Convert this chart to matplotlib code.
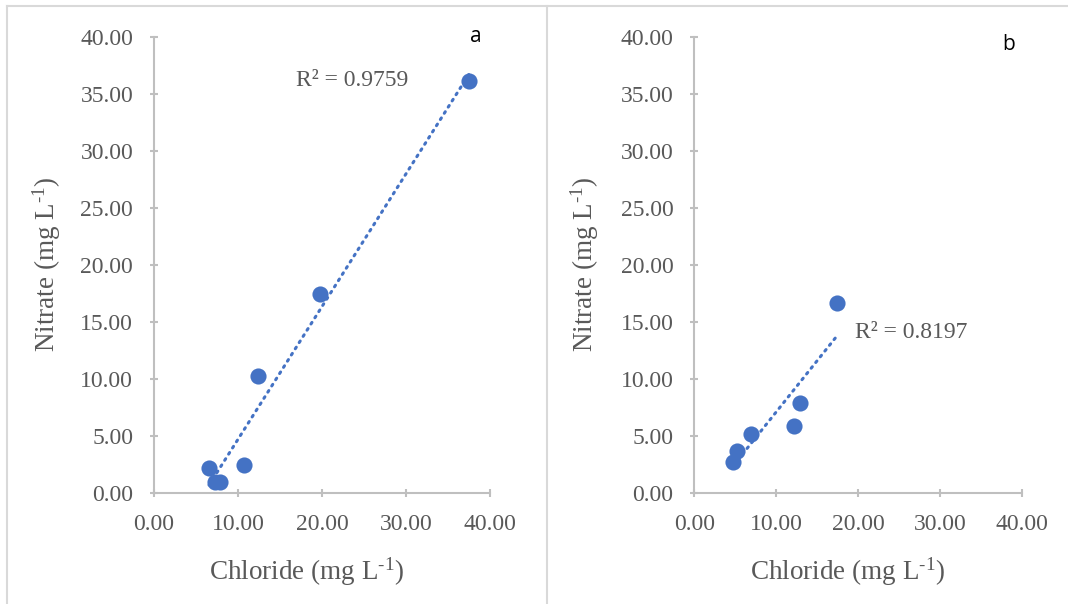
import numpy as np
import matplotlib
matplotlib.use("Agg")
import matplotlib.pyplot as plt
from matplotlib.lines import Line2D

# values
chloride_a = [6.55, 7.3, 7.9, 10.75, 12.42, 19.8, 37.5]
nitrate_a = [2.15, 0.98, 0.96, 2.43, 10.24, 17.45, 36.1]
r2_a = "R² = 0.9759"

chloride_b = [4.76, 5.17, 6.9, 12.2, 12.9, 17.37]
nitrate_b = [2.72, 3.68, 5.15, 5.88, 7.9, 16.6]
r2_b = "R² = 0.8197"

ticks = [0, 10, 20, 30, 40]
yticks = [0, 5, 10, 15, 20, 25, 30, 35, 40]

blue = "#4472C4"
grey_txt = "#595959"
grey_line = "#BFBFBF"

plt.rcParams["font.family"] = ["Liberation Serif", "DejaVu Serif"]
plt.rcParams["mathtext.fontset"] = "custom"
plt.rcParams["mathtext.rm"] = "Liberation Serif"
plt.rcParams["mathtext.it"] = "Liberation Serif:italic"

W, H = 1068, 604
fig = plt.figure(figsize=(W / 100, H / 100), dpi=100)

# outer frame lines
for xs, ys in [([7 / W, 7 / W], [0, 1 - 6 / H]),
               ([7 / W, 1], [1 - 6 / H, 1 - 6 / H]),
               ([547 / W, 547 / W], [0, 1 - 6 / H])]:
    fig.add_artist(Line2D(xs, ys, transform=fig.transFigure, color="#D9D9D9", lw=1.5))


def panel(rect, x, y, r2, r2_pos, letter, letter_pos, xlab_pos, ylab_pos):
    ax = fig.add_axes(rect)
    ax.scatter(x, y, s=135, color=blue, zorder=3, linewidths=0)
    k, b = np.polyfit(x, y, 1)
    xx = np.array([min(x), max(x)])
    ax.plot(xx, k * xx + b, color=blue, lw=2.2, ls=(0, (0.6, 1.8)),
            dash_capstyle="round", zorder=2)
    ax.set_xlim(0, 40)
    ax.set_ylim(0, 40)
    ax.set_xticks(ticks)
    ax.set_yticks(yticks)
    ax.set_xticklabels([f"{t:.2f}" for t in ticks])
    ax.set_yticklabels([f"{t:.2f}" for t in yticks])
    for s in ["top", "right"]:
        ax.spines[s].set_visible(False)
    for s in ["left", "bottom"]:
        ax.spines[s].set_color(grey_line)
        ax.spines[s].set_linewidth(1.5)
    ax.tick_params(direction="inout", length=6, width=1.5, color=grey_line,
                   labelcolor=grey_txt, labelsize=17, pad=12)
    ax.set_xlabel(r"Chloride (mg L$^{\text{-1}}$)", fontsize=19.5, color=grey_txt)
    ax.set_ylabel(r"Nitrate (mg L$^{\text{-1}}$)", fontsize=19.5, color=grey_txt)
    ax.xaxis.set_label_coords(xlab_pos[0] / W, 1 - xlab_pos[1] / H, transform=fig.transFigure)
    ax.yaxis.set_label_coords(ylab_pos[0] / W, 1 - ylab_pos[1] / H, transform=fig.transFigure)
    ax.xaxis.label.set_va("center")
    ax.yaxis.label.set_va("center")
    ax.patch.set_alpha(0)
    fig.text(r2_pos[0] / W, 1 - r2_pos[1] / H, r2, fontsize=17,
             color=grey_txt, ha="left", va="center")
    fig.text(letter_pos[0] / W, 1 - letter_pos[1] / H, letter, family="Open Sans",
             fontsize=15, color="black", ha="center", va="center")
    return ax


panel([154 / W, 1 - 492.7 / H, 336 / W, 456 / H], chloride_a, nitrate_a,
      r2_a, (296, 81), "a", (476, 36), (307, 572), (47, 264))
panel([694.3 / W, 1 - 492.7 / H, 328 / W, 456 / H], chloride_b, nitrate_b,
      r2_b, (855, 333), "b", (1009, 45), (848, 572), (585, 264))

fig.savefig("out.png", dpi=100)
